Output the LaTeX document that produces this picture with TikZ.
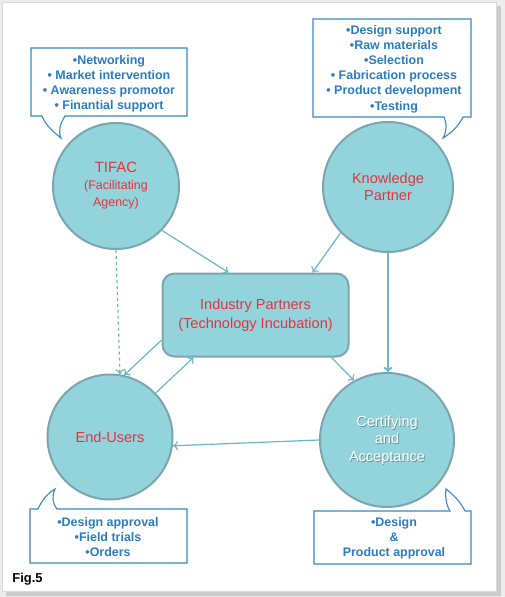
\documentclass[tikz,border=0pt]{standalone}
\usepackage{fontspec}
\setmainfont{Liberation Sans}
\usepackage{tikz}
\usetikzlibrary{arrows,arrows.meta,shapes,positioning}

\definecolor{discfill}{HTML}{93D3DC}
\definecolor{discdraw}{HTML}{7BA6AF}
\definecolor{labred}{HTML}{E3343F}
\definecolor{callline}{HTML}{3A88C6}
\definecolor{calltext}{HTML}{2B7CC2}
\definecolor{linkblue}{HTML}{6BB7CA}

\begin{document}
\begin{tikzpicture}
        [
            x=1bp, y=-1bp,
            partner/.style={circle, draw=discdraw, fill=discfill, line width=2bp, inner sep=0pt, align=center, text=labred, font=\fontsize{14.6}{17.5}\selectfont},
            hub/.style={rectangle, rounded corners=12bp, draw=discdraw, fill=discfill, line width=2bp, minimum width=186bp, minimum height=83bp, align=center, text=labred, font=\fontsize{14.6}{19}\selectfont},
            bubble/.style={draw=callline, line width=1.1bp, fill=white},
            bubbletext/.style={align=center, text=calltext, font=\bfseries\fontsize{12.5}{15.2}\selectfont},
            link/.style={->, draw=linkblue, line width=1.2bp},
            >={To[length=5bp,width=9bp]},
        ]
            % page and shadow
            \useasboundingbox (0,0) rectangle (505,597);
            \fill[gray!15] (0,0) rectangle (505,597);
            \fill[gray!40] (6,6) rectangle (501,596);
            \fill[white, draw=gray!30] (2,2) rectangle (496,591);

            % callouts
            \draw[bubble] (31,48) -- (187,48) -- (187,116) -- (65,116)
                .. controls (60,124) and (58,131) .. (61,138)
                .. controls (53,132) and (45,124) .. (42,116) -- (31,116) -- cycle;
            \draw[bubble] (313,19) -- (471,19) -- (471,117) -- (463,117)
                .. controls (458,127) and (451,133) .. (443,138)
                .. controls (447,131) and (447,123) .. (444,117) -- (313,117) -- cycle;
            \draw[bubble] (30,509) -- (38,509)
                .. controls (42,500) and (48,493) .. (55,489)
                .. controls (52,495) and (52,503) .. (57,509) -- (187,509) -- (187,563) -- (30,563) -- cycle;
            \draw[bubble] (314,511) -- (450,511)
                .. controls (446,505) and (445,495) .. (446,489)
                .. controls (454,495) and (461,503) .. (465,511) -- (471,511) -- (471,564) -- (314,564) -- cycle;

            \node[bubbletext] (tifacnote) at (109,83.5) {•Networking\\• Market intervention\\• Awareness promotor\\• Finantial support};
            \node[bubbletext] (knownote) at (394,69) {•Design support\\•Raw materials\\•Selection\\• Fabrication process\\• Product development\\•Testing};
            \node[bubbletext] (endnote) at (108,537) {•Design approval\\•Field trials\\•Orders};
            \node[bubbletext] (certnote) at (394,538.5) {•Design\\\&\\Product approval};

            % partners
            \node[partner, minimum size=126bp] (tifac) at (116,186) {{\fontsize{15}{17}\selectfont TIFAC}\\[-1bp]{\fontsize{12.5}{15}\selectfont (Facilitating}\\{\fontsize{12.5}{15}\selectfont Agency)}};
            \node[partner, minimum size=130bp] (know) at (388,187) {Knowledge\\Partner};
            \node[partner, minimum size=125bp] (end) at (110,437) {End-Users};
            \node[partner, minimum size=134bp] (cert) at (387,440) {};
            \node[hub] (ind) at (255.5,315) {Industry Partners\\(Technology Incubation)};

            \node[align=center, text=black, opacity=0.3, font=\fontsize{14.6}{17.5}\selectfont] (certshade) at ([xshift=0.9bp,yshift=-0.9bp]cert.center) {Certifying\\and\\Acceptance};
            \node[align=center, text=white, font=\fontsize{14.6}{17.5}\selectfont] (certlabel) at (cert.center) {Certifying\\and\\Acceptance};

            % links
            \draw[link] (tifac.-44) -- ([xshift=-27bp]ind.north);
            \draw[link] (know.-136) -- ([xshift=57bp]ind.north);
            \draw[link, line width=1.9bp] (know.south) -- (know.south |- cert.north);
            \draw[link, dashed] (tifac.south) -- (end.81);
            \draw[link] ([yshift=-25bp]ind.west) -- (end.77);
            \draw[link] (end.44) -- ([xshift=-62bp]ind.south);
            \draw[link] ([xshift=76bp]ind.south) -- (cert.119);
            \draw[link] (cert.180) -- (end.-8);

            \node[font=\bfseries\fontsize{13}{14}\selectfont] (fig) at (27.5,579) {Fig.5};
        \end{tikzpicture}
\end{document}
